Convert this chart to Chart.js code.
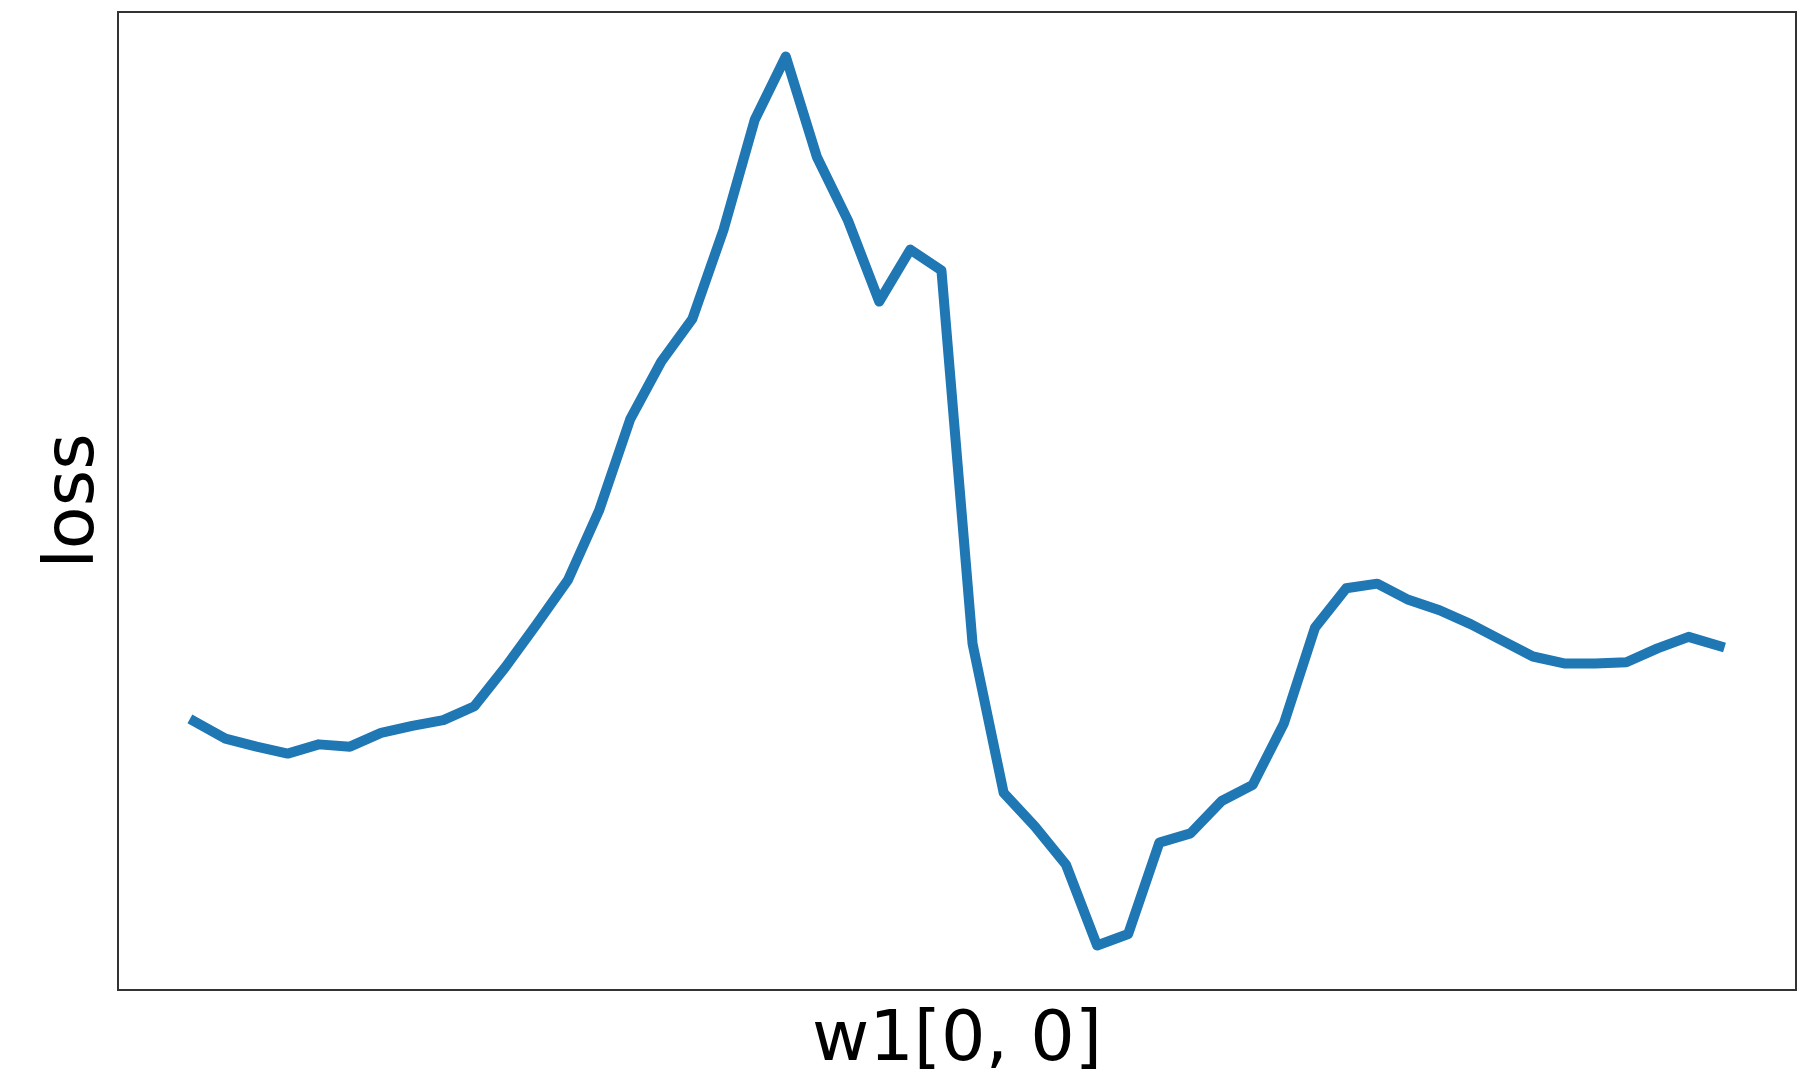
<!DOCTYPE html>
<html>
<head>
<meta charset="utf-8">
<title>loss vs w1[0, 0]</title>
<script src="https://cdn.jsdelivr.net/npm/chart.js@4.4.1/dist/chart.umd.min.js"></script>
<style>
    html, body { margin: 0; padding: 0; background: #fff; }
    #wrap { width: 1818px; height: 1080px; }
</style>
</head>
<body>
<div id="wrap"><canvas id="chart"></canvas></div>
<script>
// weight values along the x axis (no ticks are shown in the figure)
const weights = [
    -0.49, -0.47, -0.45, -0.43, -0.41, -0.39, -0.37, -0.35, -0.33, -0.31,
    -0.29, -0.27, -0.25, -0.23, -0.21, -0.19, -0.17, -0.15, -0.13, -0.11,
    -0.09, -0.07, -0.05, -0.03, -0.01, 0.01, 0.03, 0.05, 0.07, 0.09,
    0.11, 0.13, 0.15, 0.17, 0.19, 0.21, 0.23, 0.25, 0.27, 0.29,
    0.31, 0.33, 0.35, 0.37, 0.39, 0.41, 0.43, 0.45, 0.47, 0.49
];

// loss (arbitrary units, the axis has no ticks)
const loss = [
    0.380, 0.365, 0.358, 0.352, 0.360, 0.358, 0.370, 0.376, 0.381, 0.393,
    0.427, 0.464, 0.502, 0.562, 0.641, 0.691, 0.728, 0.805, 0.900, 0.955,
    0.868, 0.813, 0.743, 0.788, 0.770, 0.447, 0.318, 0.289, 0.256, 0.186,
    0.196, 0.275, 0.283, 0.311, 0.325, 0.378, 0.461, 0.495, 0.499, 0.485,
    0.476, 0.464, 0.450, 0.436, 0.430, 0.430, 0.431, 0.443, 0.453, 0.445
];

const xLabel = "w1[0, 0]";
const yLabel = "loss";

const FONT = "'DejaVu Sans', 'Liberation Sans', sans-serif";

// matplotlib style margins: 5% of the data range on each side
const withMargin = (values, frac) => {
    const lo = Math.min(...values);
    const hi = Math.max(...values);
    const pad = (hi - lo) * frac;
    return { min: lo - pad, max: hi + pad };
};
const xRange = withMargin(weights, 0.05);
const yRange = withMargin(loss, 0.05);

// box around the plot area (all four spines)
const framePlugin = {
    id: "frame",
    afterDraw(chart) {
        const { ctx, chartArea: a } = chart;
        ctx.save();
        ctx.strokeStyle = "#333333";
        ctx.lineWidth = 2;
        ctx.strokeRect(a.left, a.top, a.right - a.left, a.bottom - a.top);
        ctx.restore();
    }
};

const chartConfig = {
    type: "line",
    data: {
        labels: weights,
        datasets: [{
            label: yLabel,
            data: loss,
            borderColor: "#1f77b4",
            backgroundColor: "#1f77b4",
            borderWidth: 10,
            borderCapStyle: "square",
            borderJoinStyle: "round",
            pointRadius: 0,
            tension: 0,
            fill: false
        }]
    },
    options: {
        responsive: true,
        maintainAspectRatio: false,
        devicePixelRatio: 1,
        animation: false,
        layout: {
            padding: { left: 32, right: 22, top: 12, bottom: 0 }
        },
        plugins: {
            legend: { display: false },
            tooltip: { enabled: false }
        },
        scales: {
            x: {
                type: "linear",
                min: xRange.min,
                max: xRange.max,
                bounds: "data",
                ticks: { display: false },
                grid: { display: false, drawTicks: false },
                border: { display: false },
                title: {
                    display: true,
                    text: xLabel,
                    color: "#000",
                    font: { family: FONT, size: 70, lineHeight: 1.1 },
                    padding: { top: 13, bottom: 0 }
                }
            },
            y: {
                type: "linear",
                min: yRange.min,
                max: yRange.max,
                bounds: "data",
                ticks: { display: false },
                grid: { display: false, drawTicks: false },
                border: { display: false },
                title: {
                    display: true,
                    text: yLabel,
                    color: "#000",
                    font: { family: FONT, size: 70, lineHeight: 1.1 },
                    padding: { top: 4, bottom: 5 }
                }
            }
        }
    },
    plugins: [framePlugin]
};

const myChart = new Chart(document.getElementById("chart"), chartConfig);
</script>
</body>
</html>
